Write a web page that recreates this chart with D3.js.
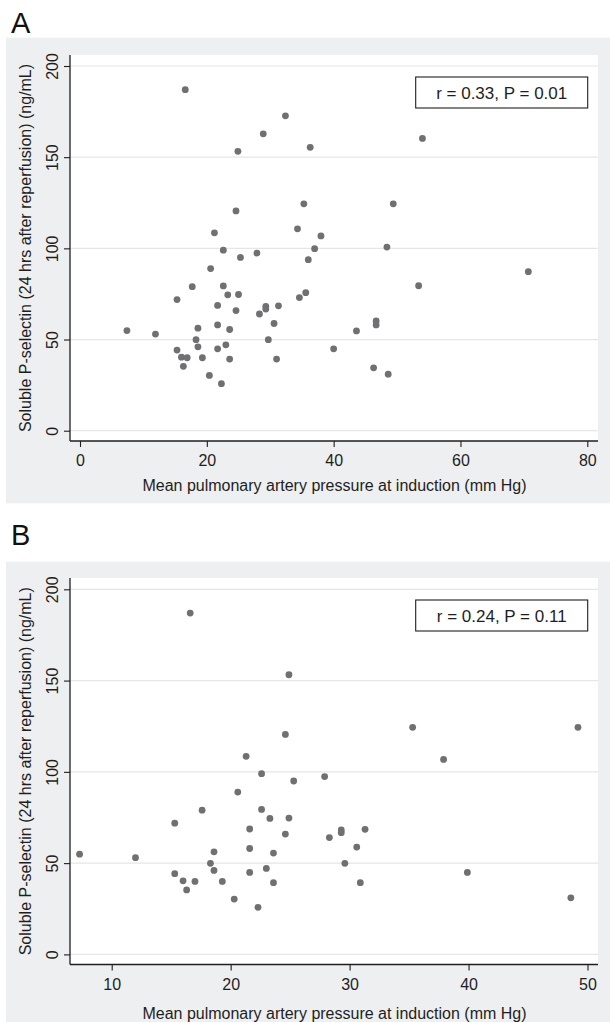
<!DOCTYPE html>
<html>
<head>
<meta charset="utf-8">
<script src="https://cdn.jsdelivr.net/npm/d3@7"></script>
<style>
  body { margin: 0; background: #fff; }
  svg { display: block; font-family: "Liberation Sans", Arial, sans-serif; }
</style>
</head>
<body>
<div id="chart"></div>
<script>
// Panel A: all patients
const pressureA = [16.6, 32.4, 28.9, 24.9, 36.3, 24.6, 35.3, 21.2, 34.3, 38.0,
  22.6, 25.3, 27.9, 37.0, 36.0, 20.6, 17.7, 22.6, 23.3, 25.0,
  35.6, 34.6, 15.3, 21.7, 24.6, 29.3, 29.3, 28.3, 31.3, 30.6,
  7.4, 11.9, 21.7, 18.6, 23.6, 18.3, 29.7, 18.6, 15.3, 21.7,
  23.0, 40.0, 16.0, 16.9, 19.3, 23.6, 31.0, 16.3, 20.4, 22.3,
  54.0, 49.4, 48.4, 70.7, 53.4, 46.7, 46.7, 43.6, 46.3, 48.6];
const selectinA = [187.0, 172.7, 162.8, 153.2, 155.4, 120.5, 124.4, 108.5, 110.7, 106.8,
  99.0, 95.0, 97.4, 99.8, 93.8, 88.9, 79.0, 79.4, 74.5, 74.7,
  75.7, 73.0, 71.9, 68.7, 65.9, 68.2, 66.7, 64.0, 68.5, 58.8,
  54.9, 53.0, 58.0, 56.2, 55.5, 49.9, 49.9, 46.0, 44.2, 44.9,
  47.1, 44.9, 40.3, 40.0, 40.0, 39.3, 39.3, 35.3, 30.3, 25.8,
  160.3, 124.4, 100.7, 87.2, 79.5, 60.2, 58.0, 54.7, 34.5, 31.0];

// Panel B: subset with pressure up to 50 mm Hg
const pressureB = [16.6, 24.9, 24.6, 21.3, 22.6, 25.3, 27.9, 20.6, 17.6, 22.6,
  23.3, 24.9, 15.3, 21.6, 24.6, 28.3, 7.3, 12.0, 21.6, 18.6,
  23.6, 18.3, 18.6, 15.3, 23.0, 21.6, 16.0, 17.0, 19.3, 23.6,
  16.3, 20.3, 22.3, 35.3, 49.2, 37.9, 29.3, 29.3, 31.3, 30.6,
  29.6, 30.9, 39.9, 48.6];
const selectinB = [187.0, 153.2, 120.5, 108.5, 99.0, 95.0, 97.4, 88.9, 79.0, 79.4,
  74.5, 74.7, 71.9, 68.7, 65.9, 64.0, 54.9, 53.0, 58.0, 56.2,
  55.5, 49.9, 46.0, 44.2, 47.1, 44.9, 40.3, 40.0, 40.0, 39.3,
  35.3, 30.3, 25.8, 124.4, 124.4, 106.8, 68.2, 66.7, 68.5, 58.8,
  49.9, 39.3, 44.9, 31.0];

const xTicksA = [0, 20, 40, 60, 80];
const xTicksB = [10, 20, 30, 40, 50];
const yTicks = [0, 50, 100, 150, 200];
const panelLetters = ["A", "B"];
const statLabels = ["r = 0.33, P = 0.01", "r = 0.24, P = 0.11"];
const xTitle = "Mean pulmonary artery pressure at induction (mm Hg)";
const yTitle = "Soluble P-selectin (24 hrs after reperfusion) (ng/mL)";

const width = 610, height = 1022;
const ink = "#1e1e1e";

const svg = d3.select("#chart").append("svg")
  .attr("width", width)
  .attr("height", height);

const panels = [
  {
    letter: panelLetters[0], letterY: 33,
    bgTop: 37.7, bgBottom: 503.3,
    top: 55, bottom: 441,
    xDomain: [0, 80], xRange: [80, 587.3], xTicks: xTicksA,
    yRange: [430.7, 66],
    titleY: 491, boxTop: 77,
    stat: statLabels[0], xs: pressureA, ys: selectinA
  },
  {
    letter: panelLetters[1], letterY: 545,
    bgTop: 561.7, bgBottom: 1040,
    top: 578, bottom: 964.5,
    xDomain: [10, 50], xRange: [111.7, 587.5], xTicks: xTicksB,
    yRange: [954.4, 589.3],
    titleY: 1019, boxTop: 600,
    stat: statLabels[1], xs: pressureB, ys: selectinB
  }
];

const left = 70, right = 598;

panels.forEach(function(p) {
  let x = d3.scaleLinear().domain(p.xDomain).range(p.xRange);
  let y = d3.scaleLinear().domain([0, 200]).range(p.yRange);

  // panel letter
  svg.append("text")
    .attr("x", 11)
    .attr("y", p.letterY)
    .style("font-size", "29px")
    .attr("fill", "#111")
    .text(p.letter);

  // grey graph region + white plot region
  svg.append("rect")
    .attr("x", 6).attr("y", p.bgTop)
    .attr("width", width - 6).attr("height", p.bgBottom - p.bgTop)
    .attr("fill", "#eeeff1");
  svg.append("rect")
    .attr("x", left).attr("y", p.top)
    .attr("width", right - left).attr("height", p.bottom - p.top)
    .attr("fill", "#fff");

  // horizontal grid
  svg.append("g")
    .selectAll("line")
    .data(yTicks)
    .enter().append("line")
    .attr("x1", left).attr("x2", right)
    .attr("y1", d => y(d)).attr("y2", d => y(d))
    .attr("stroke", "#e6e6e8")
    .attr("stroke-width", 1.2);

  // y axis
  let yAxis = svg.append("g")
    .attr("transform", "translate(" + left + ",0)")
    .call(d3.axisLeft(y).tickValues(yTicks).tickSize(6).tickSizeOuter(0));
  yAxis.select(".domain").remove();
  yAxis.selectAll(".tick line").attr("stroke", ink).attr("stroke-width", 1.1);
  yAxis.selectAll(".tick text")
    .attr("transform", "rotate(-90)")
    .attr("x", 0).attr("y", -12).attr("dy", 0)
    .attr("text-anchor", "middle")
    .attr("fill", ink)
    .style("font-size", "16px")
    .style("font-family", "Liberation Sans, Arial, sans-serif");

  // x axis
  let xAxis = svg.append("g")
    .attr("transform", "translate(0," + p.bottom + ")")
    .call(d3.axisBottom(x).tickValues(p.xTicks).tickSize(6).tickSizeOuter(0));
  xAxis.select(".domain").remove();
  xAxis.selectAll(".tick line").attr("stroke", ink).attr("stroke-width", 1.1);
  xAxis.selectAll(".tick text")
    .attr("y", 25).attr("dy", 0)
    .attr("fill", ink)
    .style("font-size", "16px")
    .style("font-family", "Liberation Sans, Arial, sans-serif");

  // axis lines
  svg.append("line")
    .attr("x1", left).attr("x2", left)
    .attr("y1", p.top).attr("y2", p.bottom)
    .attr("stroke", ink).attr("stroke-width", 1.3);
  svg.append("line")
    .attr("x1", left).attr("x2", right)
    .attr("y1", p.bottom).attr("y2", p.bottom)
    .attr("stroke", ink).attr("stroke-width", 1.3);

  // axis titles
  svg.append("text")
    .attr("x", (left + right) / 2 + 0.5)
    .attr("y", p.titleY)
    .attr("text-anchor", "middle")
    .attr("fill", ink)
    .style("font-size", "16px")
    .text(xTitle);
  let midY = (p.top + p.bottom) / 2;
  svg.append("text")
    .attr("transform", "translate(31," + midY + ") rotate(-90)")
    .attr("text-anchor", "middle")
    .attr("fill", ink)
    .style("font-size", "16px")
    .text(yTitle);

  // stats box
  svg.append("rect")
    .attr("x", 415.7).attr("y", p.boxTop)
    .attr("width", 172).attr("height", 31)
    .attr("fill", "#fff")
    .attr("stroke", ink).attr("stroke-width", 1.1);
  svg.append("text")
    .attr("x", 415.7 + 86).attr("y", p.boxTop + 21.5)
    .attr("text-anchor", "middle")
    .attr("fill", ink)
    .style("font-size", "17px")
    .text(p.stat);

  // points
  svg.append("g")
    .selectAll("circle")
    .data(p.xs.map((v, i) => [v, p.ys[i]]))
    .enter().append("circle")
    .attr("cx", d => x(d[0]))
    .attr("cy", d => y(d[1]))
    .attr("r", 3.4)
    .attr("fill", "#6f6f74");
});
</script>
</body>
</html>
